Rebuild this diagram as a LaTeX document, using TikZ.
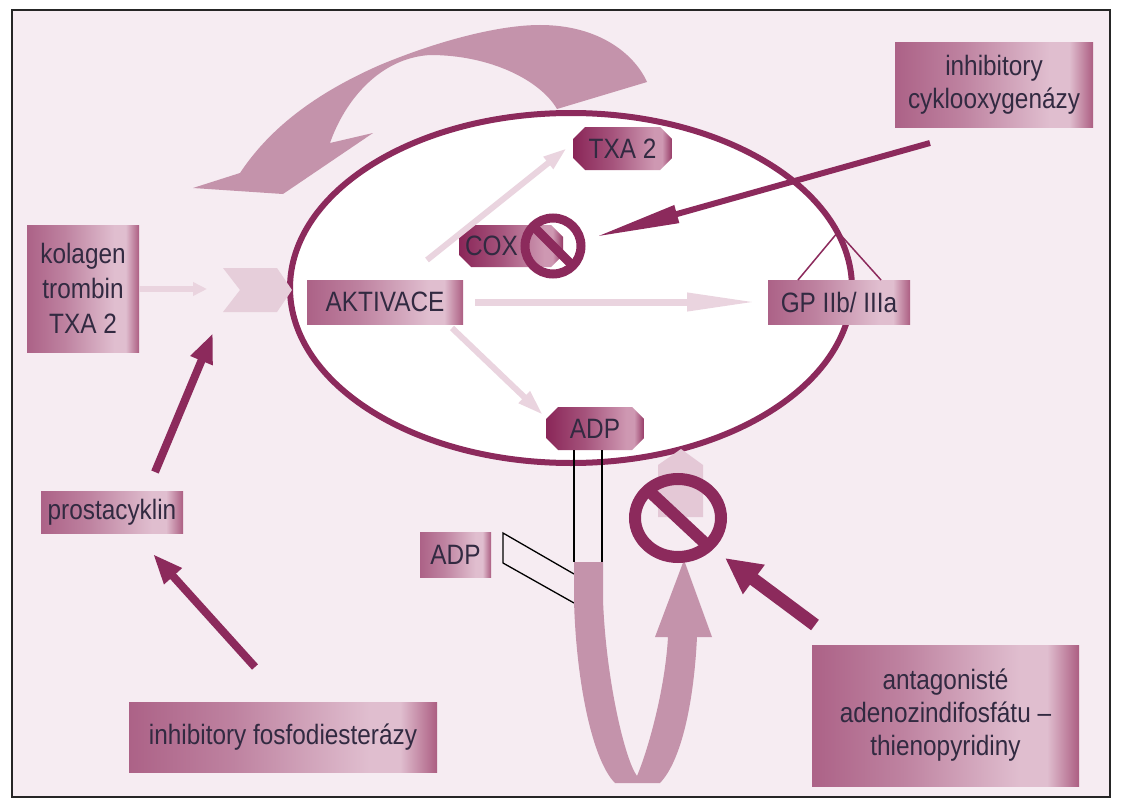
\documentclass[tikz,border=0pt]{standalone}
\usepackage{fontspec}
\setmainfont{Liberation Sans}[FakeStretch=0.87]
\usetikzlibrary{arrows.meta,shapes.misc,shapes.geometric}
\definecolor{bgpink}{RGB}{246,236,242}
\definecolor{dark}{RGB}{140,42,92}
\definecolor{mid}{RGB}{196,147,171}
\definecolor{lite}{RGB}{234,212,223}
\definecolor{chev}{RGB}{230,206,218}
\definecolor{house}{RGB}{228,200,214}
\definecolor{txt}{RGB}{50,42,65}
\definecolor{boxA}{RGB}{172,98,135}
\definecolor{boxB}{RGB}{224,190,207}
\definecolor{boxC}{RGB}{172,94,130}
\definecolor{chA}{RGB}{138,38,88}
\definecolor{chB}{RGB}{206,152,178}
\definecolor{chC}{RGB}{150,58,102}
\pgfdeclarehorizontalshading{boxsh}{100bp}{color(0bp)=(boxA); color(25bp)=(boxA); color(42bp)=(boxA!65!boxB); color(64bp)=(boxB); color(69bp)=(boxB); color(75bp)=(boxC); color(100bp)=(boxC)}
\pgfdeclarehorizontalshading{chsh}{100bp}{color(0bp)=(chA); color(25bp)=(chA); color(45bp)=(chA!60!chB); color(66bp)=(chB); color(70bp)=(chB); color(75bp)=(chC); color(100bp)=(chC)}
\begin{document}
\begin{tikzpicture}[x=1pt,y=-1pt,
  every node/.style={font=\fontsize{28}{33}\selectfont, text=txt, inner sep=0pt},
  tbox/.style={rectangle, shade, shading=boxsh, align=center},
  chbox/.style={chamfered rectangle, chamfered rectangle xsep=6pt, chamfered rectangle ysep=6pt, shade, shading=chsh, align=center},
  darkarr/.style={draw=dark, line width=#1, line cap=butt},
  litearr/.style={draw=lite, line width=#1, line cap=butt},
  thinblack/.style={draw=black, line width=1.3pt}]
\useasboundingbox (0,0) rectangle (1128,800);
\fill[white] (0,0) rectangle (1128,800);
\draw[fill=bgpink, line width=2pt, draw=black!85] (12,10) rectangle (1110,797);

% top curved arrow
\fill[mid] (240,173) .. controls (262,140) and (300,100) .. (380,65)
  .. controls (440,40) and (500,25) .. (540,25)
  .. controls (600,25) and (635,55) .. (647,82)
  -- (557,109) .. controls (540,80) and (490,55) .. (430,55)
  .. controls (380,58) and (345,100) .. (330,143)
  -- (373,133) -- (283,194) -- (193,188) -- cycle;

% cell
\node[ellipse, draw=dark, line width=6pt, fill=white, minimum width=562, minimum height=350] (cell) at (571,288) {};

% chevron
\fill[chev] (223,268) -- (277,268) -- (292,290) -- (277,312) -- (223,312) -- (240,290) -- cycle;
\coordinate (chevW) at (207,289);

% receptor GP junction on the membrane
\coordinate (gpj) at (838,232);

% text boxes
\node[tbox, minimum width=198, minimum height=84] (cyclo) at (994,85) {inhibitory\\cyklooxygenázy};
\node[tbox, minimum width=267, minimum height=141] (antag) at (945.5,715.5) {antagonisté\\adenozindifosfátu –\\thienopyridiny};
\node[tbox, minimum width=308, minimum height=70] (fosfo) at (283,737) {inhibitory fosfodiesterázy};
\node[tbox, minimum width=142, minimum height=42] (prosta) at (112,512) {prostacyklin};
\node[tbox, minimum width=112, minimum height=127, font=\fontsize{28}{35}\selectfont] (kolagen) at (83,288.5) {kolagen\\trombin\\TXA 2};
\node[tbox, minimum width=156, minimum height=44] (aktiv) at (385,302) {AKTIVACE};
\node[tbox, minimum width=142, minimum height=44] (gp) at (839,302) {GP IIb/ IIIa};
\node[tbox, minimum width=71, minimum height=45] (adpout) at (455.5,554.5) {ADP};

\node[chbox, minimum width=99, minimum height=43] (txa) at (622.5,148.5) {TXA 2};
\node[chbox, minimum width=98, minimum height=42, text width=92pt, align=left] (cox) at (511,246) {COX};
\node[chbox, minimum width=98, minimum height=43] (adpin) at (595,428.5) {ADP};

\coordinate (gpl) at (798,280);
\coordinate (gpr) at (881,280);
\draw[dark, line width=1.5pt] (gpl) -- (gpj) -- (gpr);

% light arrows
\draw[litearr=6pt, -{Triangle[length=14pt,width=13pt]}] (kolagen.east |- chevW) -- (chevW);
\draw[litearr=6pt, -{Triangle[length=24pt,width=14pt]}] (427,260) -- (567,148);
\draw[litearr=7pt, -{Triangle[length=70pt,width=17pt]}] (475,302) -- (757,302);
\draw[litearr=6pt, -{Triangle[length=26pt,width=15pt]}] (452,328) -- (543,415);

% dark arrows
\draw[darkarr=8pt, -{Triangle[length=30pt,width=22pt]}] (155,472) -- (213,333);
\draw[darkarr=8pt, -{Triangle[length=30pt,width=22pt]}] (255,667) -- (153,554);
\draw[darkarr=6pt, -{Triangle[length=85pt,width=17pt]}] (930,143) -- (595,237);
\draw[darkarr=13pt, -{Triangle[length=36pt,width=34pt]}] (815,625) -- (725,558);

% ADP receptor
\draw[thinblack] (574,450) -- (574,562);
\draw[thinblack] (602,450) -- (602,562);
\draw[thinblack] (574,574) -- (503,533) -- (503,563) -- (574,603);

% house arrow behind
\fill[house] (658,517) -- (658,465) -- (681,449) -- (703,465) -- (703,517) -- cycle;

% bottom loop
\fill[mid] (574,562) -- (603,562) -- (603,600)
  .. controls (606,680) and (625,760) .. (637,776)
  .. controls (648,750) and (665,690) .. (668,637)
  -- (655,637) -- (684,560) -- (712,637) -- (697,637)
  .. controls (694,700) and (682,760) .. (660,783)
  -- (615,783) .. controls (592,760) and (576,680) .. (574,600) -- cycle;

% no signs
\draw[dark, line width=9pt] (553,246) circle [radius=28];
\draw[dark, line width=9pt] (533,226) -- (573,266);
\draw[dark, line width=12pt] (678,518) ellipse [x radius=43, y radius=39];
\draw[dark, line width=12pt] (648,490) -- (708,546);
\end{tikzpicture}
\end{document}
